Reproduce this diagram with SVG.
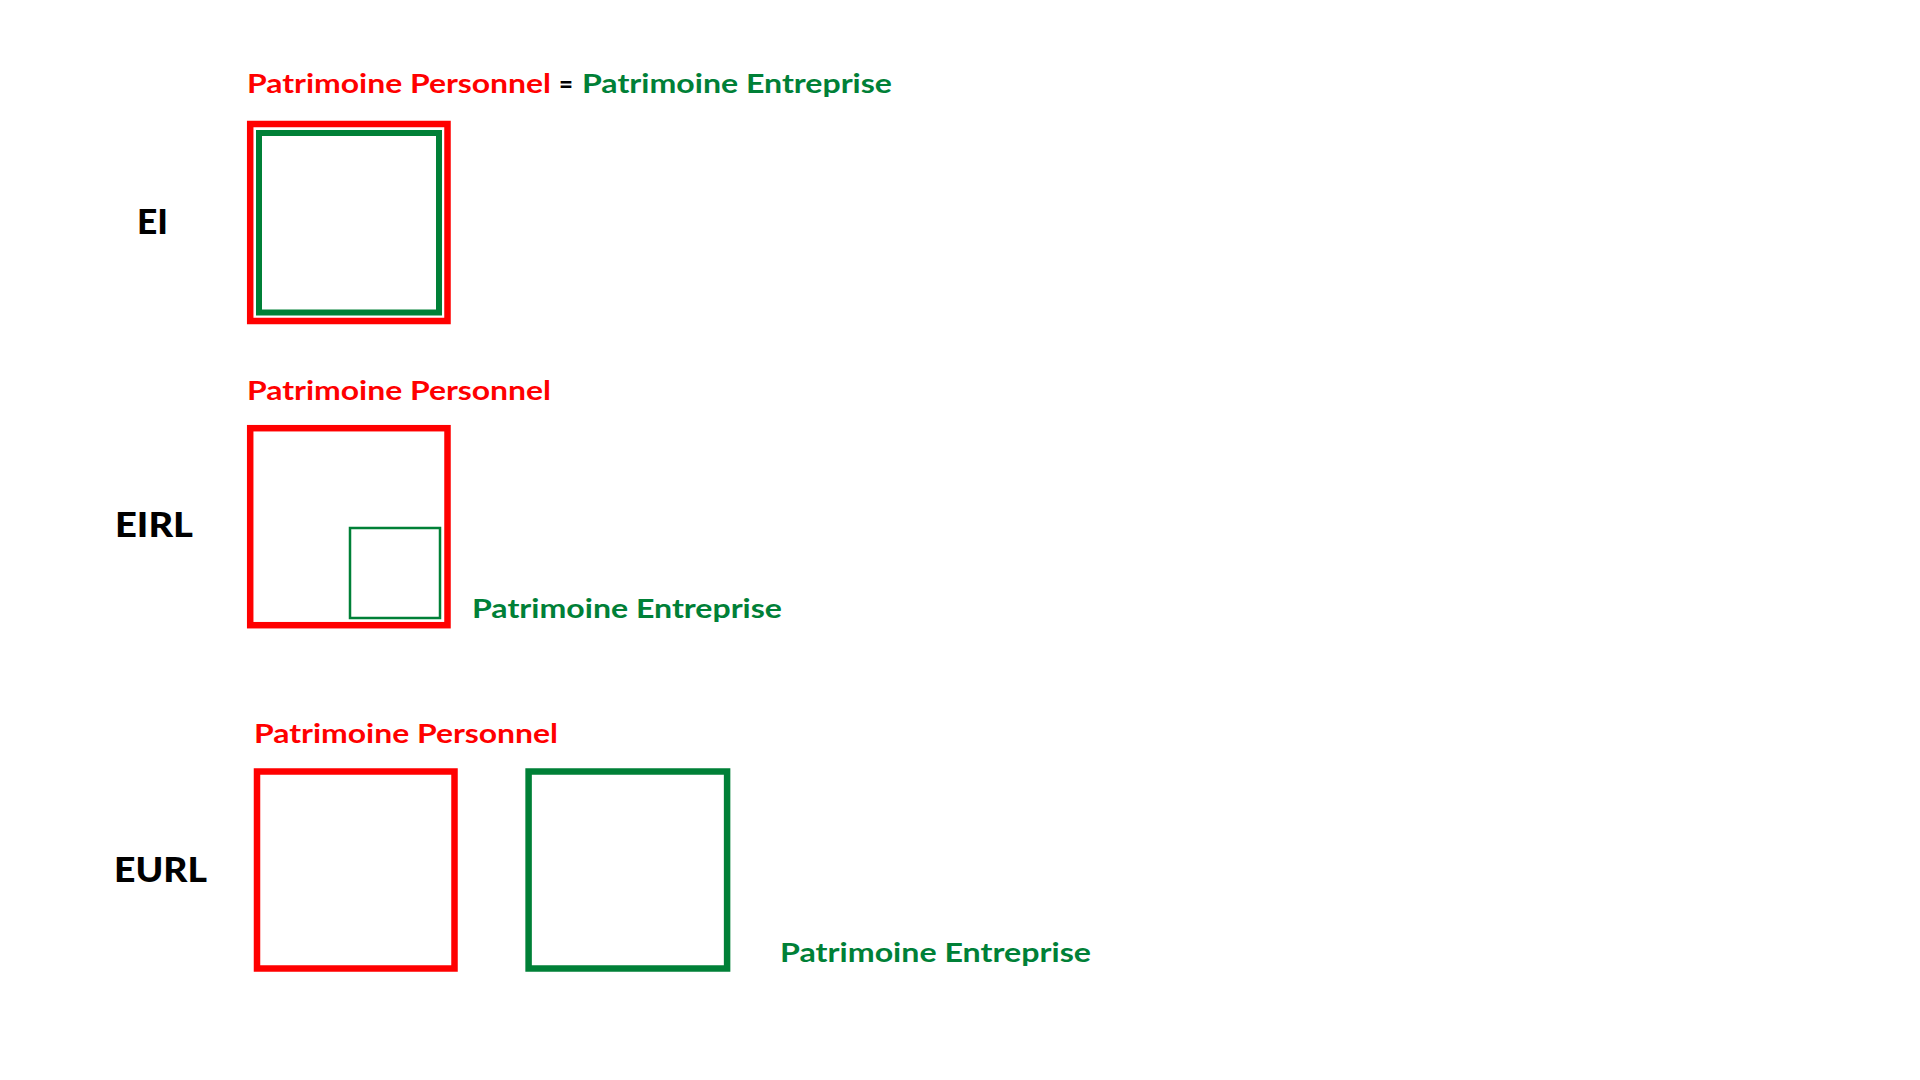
<svg xmlns="http://www.w3.org/2000/svg" width="1920" height="1080" viewBox="0 0 1920 1080">
<style>
.lbl{font-family:Lato,"Noto Sans","Liberation Sans",sans-serif;font-weight:700;font-size:26px}
.red{fill:#FF0000}
.grn{fill:#008037}
.blk{fill:#000000}
.ttl{font-family:Lato,"Noto Sans","Liberation Sans",sans-serif;font-weight:900;font-size:35px;fill:#000000}
.bred{fill:none;stroke:#FF0000;stroke-width:6.5}
.bgrn{fill:none;stroke:#008037;stroke-width:6}
.bgrn-thin{fill:none;stroke:#008037;stroke-width:2.5}
</style>
<rect width="1920" height="1080" fill="#FFFFFF"/>
<g id="ei">
  <text class="ttl" x="137" y="234" textLength="31" lengthAdjust="spacingAndGlyphs">EI</text>
  <text class="lbl" x="247" y="93"><tspan class="red" textLength="304" lengthAdjust="spacingAndGlyphs">Patrimoine Personnel</tspan></text>
  <text class="lbl blk" x="559" y="93" textLength="14" lengthAdjust="spacingAndGlyphs">=</text>
  <text class="lbl grn" x="582" y="93" textLength="310" lengthAdjust="spacingAndGlyphs">Patrimoine Entreprise</text>
  <rect id="ei-perso" class="bred" x="250.2" y="124" width="197.3" height="197"/>
  <rect id="ei-entreprise" class="bgrn" x="259" y="133" width="180" height="179.5"/>
</g>
<g id="eirl">
  <text class="ttl" x="115" y="537" textLength="78" lengthAdjust="spacingAndGlyphs">EIRL</text>
  <text class="lbl red" x="247" y="400" textLength="304" lengthAdjust="spacingAndGlyphs">Patrimoine Personnel</text>
  <rect id="eirl-perso" class="bred" x="250.2" y="428.2" width="197.3" height="197"/>
  <rect id="eirl-entreprise" class="bgrn-thin" x="350" y="528" width="90" height="90"/>
  <text class="lbl grn" x="472" y="618" textLength="310" lengthAdjust="spacingAndGlyphs">Patrimoine Entreprise</text>
</g>
<g id="eurl">
  <text class="ttl" x="114" y="882" textLength="93" lengthAdjust="spacingAndGlyphs">EURL</text>
  <text class="lbl red" x="254" y="743" textLength="304" lengthAdjust="spacingAndGlyphs">Patrimoine Personnel</text>
  <rect id="eurl-perso" class="bred" x="257" y="771.5" width="197.5" height="197"/>
  <rect id="eurl-entreprise" class="bgrn" style="stroke-width:6.5" x="528.6" y="771.5" width="198.5" height="197"/>
  <text class="lbl grn" x="780" y="962" textLength="311" lengthAdjust="spacingAndGlyphs">Patrimoine Entreprise</text>
</g>
<g id="connectors"></g>
</svg>
